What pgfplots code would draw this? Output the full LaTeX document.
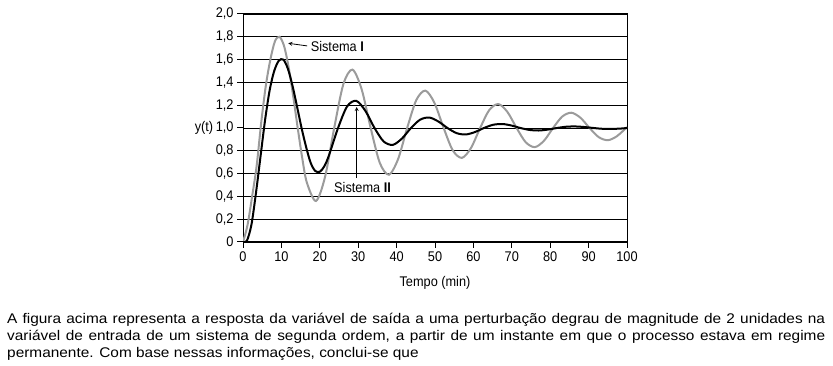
\documentclass[border=0pt]{standalone}
\usepackage{pgfplots}
\pgfplotsset{compat=1.18}
\usepackage{fontspec}
\setmainfont{Liberation Sans}
\newfontfamily\chartfont[FakeStretch=0.91]{Liberation Sans}
\newfontfamily\parafont[FakeStretch=1.1]{Liberation Sans}
\definecolor{grayline}{RGB}{155,155,155}
\begin{document}
\begin{tikzpicture}[x=1pt,y=1pt]
\useasboundingbox (0,0) rectangle (833,366);
\begin{axis}[
  at={(243pt,124pt)}, anchor=south west,
  scale only axis, width=384pt, height=228pt,
  xmin=0, xmax=100, ymin=0, ymax=2,
  xtick={0,10,20,30,40,50,60,70,80,90,100},
  xticklabels={0,10,20,30,40,50,60,70,80,90,100},
  ytick={0,0.2,0.4,0.6,0.8,1.0,1.2,1.4,1.6,1.8,2.0},
  yticklabels={0,{0,2},{0,4},{0,6},{0,8},{1,0},{1,2},{1,4},{1,6},{1,8},{2,0}},
  ticklabel style={font=\chartfont\fontsize{14}{16}\selectfont},
  tick align=outside, tick pos=left, major tick length=6pt,
  ymajorgrids, grid style={black, line width=0.9pt},
  axis line style={black, line width=1pt},
  tick style={black, line width=1pt},
  clip=true,
]
\addplot[grayline, line width=2pt, smooth, tension=0.5] coordinates {
(0,0) (1.1875,0.15) (2.375,0.40) (3.5625,0.67) (4.75,1.05) (5.9375,1.37) (7.125,1.60) (8.3125,1.76) (9.5,1.80) (10.6875,1.72) (11.875,1.535) (13.0625,1.282) (14.25,1.0) (15.4375,0.734) (16.625,0.522) (19,0.36) (21.375,0.572) (23.75,1.0) (26.125,1.383) (28.5,1.512) (30.875,1.342) (33.25,1.0) (35.625,0.694) (38,0.590) (40.375,0.726) (42.75,1.0) (45.125,1.245) (47.5,1.328) (49.875,1.219) (52.25,1.0) (54.625,0.804) (57,0.738) (59.375,0.825) (61.75,1.0) (64.125,1.157) (66.5,1.210) (68.875,1.140) (71.25,1.0) (73.625,0.875) (76,0.832) (78.375,0.888) (80.75,1.0) (83.125,1.100) (85.5,1.134) (87.875,1.090) (90.25,1.0) (92.625,0.920) (95,0.893) (97.375,0.928) (100,1.008)
};
\addplot[black, line width=2pt, smooth, tension=0.5] coordinates {
(0,0) (1,0.01) (2.1875,0.15) (3.375,0.43) (4.5625,0.75) (5.75,1.07) (6.9375,1.33) (8.125,1.50) (9.3125,1.59) (10.5,1.60) (11.6875,1.52) (12.875,1.373) (14.0625,1.19) (15.25,1.0) (16.4375,0.833) (17.625,0.694) (18.8125,0.623) (20,0.616) (21.1875,0.665) (22.375,0.759) (24.75,1.0) (27.125,1.190) (29.5,1.238) (31.875,1.150) (34.25,1.0) (36.625,0.882) (39,0.852) (41.375,0.907) (43.75,1.0) (46.125,1.073) (48.5,1.092) (50.875,1.057) (53.25,1.0) (55.625,0.955) (58,0.943) (60.375,0.964) (62.75,1.0) (65.125,1.028) (67.5,1.035) (69.875,1.022) (72.25,1.0) (74.625,0.983) (77,0.978) (79.375,0.986) (81.75,1.0) (84.125,1.011) (86.5,1.0135) (88.875,1.0085) (91.25,1.0) (93.625,0.993) (96,0.992) (98.375,0.995) (100,1.0)
};
\draw[-stealth, line width=0.8pt] (axis cs:16.7,1.72) -- (axis cs:11.8,1.743);
\draw[-stealth, line width=0.8pt] (axis cs:29.6,0.56) -- (axis cs:29.6,1.184);
\node[anchor=west, inner sep=0pt, font=\chartfont\fontsize{14}{16}\selectfont] at (axis cs:17.6,1.713) {Sistema \textbf{I}};
\node[anchor=west, inner sep=0pt, font=\chartfont\fontsize{14}{16}\selectfont] at (axis cs:23.7,0.474) {Sistema \textbf{II}};
\end{axis}
\node[font=\chartfont\fontsize{14}{16}\selectfont] at (204,238) {y(t)};
\node[font=\chartfont\fontsize{14}{16}\selectfont] at (435,83) {Tempo (min)};
\node[anchor=base west, inner sep=0pt, font=\parafont\fontsize{14}{16}\selectfont] at (7,42) {\makebox[818pt][s]{A figura acima representa a resposta da variável de saída a uma perturbação degrau de magnitude de 2 unidades na}};
\node[anchor=base west, inner sep=0pt, font=\parafont\fontsize{14}{16}\selectfont] at (7,25) {\makebox[818pt][s]{variável de entrada de um sistema de segunda ordem, a partir de um instante em que o processo estava em regime}};
\node[anchor=base west, inner sep=0pt, font=\parafont\fontsize{14}{16}\selectfont] at (7,8.7) {permanente. Com base nessas informações, conclui-se que};
\end{tikzpicture}
\end{document}
